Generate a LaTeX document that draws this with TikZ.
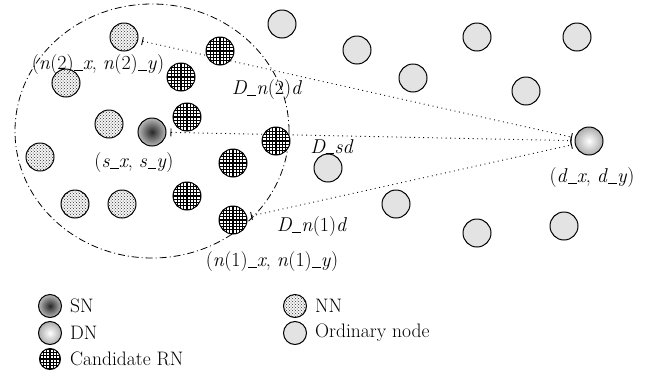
\documentclass[tikz,border=0pt]{standalone}
\usetikzlibrary{arrows.meta,patterns}
\pgfdeclarelayer{bg}
\pgfsetlayers{bg,main}
\newcommand{\vi}[1]{\textit{#1}}
\newcommand{\us}{\kern0.02em\rule[-0.12ex]{0.42em}{0.07em}\kern0.02em}
\begin{document}
\begin{tikzpicture}[x=1pt,y=-1pt,
  nd/.style={circle, draw, line width=1pt, minimum size=28pt, inner sep=0pt},
  small/.style={minimum size=23pt},
  ord/.style={nd, fill=gray!22},
  nnode/.style={nd, preaction={fill=gray!8}, pattern=crosshatch dots, pattern color=black!80},
  crn/.style={nd, fill=white, path picture={\draw[line width=1.15pt] ([shift={(-1pt,-1pt)}]path picture bounding box.south west) grid[step=3.3pt] (path picture bounding box.north east);}},
  snode/.style={nd, inner color=black!85, outer color=gray!55},
  dnode/.style={nd, inner color=white, outer color=gray!65},
  lbl/.style={font=\fontsize{20}{22}\selectfont, inner sep=0pt},
  leg/.style={font=\fontsize{19.5}{22}\selectfont, inner sep=0pt, anchor=west},
  link/.style={dash pattern=on 0.9pt off 3.6pt, line width=0.9pt, {Bar[width=8pt,line width=0.9pt]}-{Bar[width=8pt,line width=0.9pt]}, shorten <=4pt, shorten >=3pt},
  zone/.style={dash pattern=on 7pt off 3pt on 1pt off 3pt, line width=0.8pt}
]
\useasboundingbox (0,0) rectangle (648,381);

% range
\draw[zone] (152,131) ellipse [x radius=137pt, y radius=127pt];

% neighbour nodes
\node[nnode] (n2) at (124,37) {};
\node[nnode] (nna) at (66,83) {};
\node[nnode] (nnb) at (109,124) {};
\node[nnode] (nnc) at (40,157) {};
\node[nnode] (nnd) at (75,204) {};
\node[nnode] (nne) at (122,204) {};

% candidate relay nodes
\node[crn] (c1) at (220,51) {};
\node[crn] (c2) at (181,77) {};
\node[crn] (c3) at (187,117) {};
\node[crn] (c4) at (276,141) {};
\node[crn] (c5) at (233,163) {};
\node[crn] (c6) at (187,196) {};
\node[crn] (n1) at (233,220) {};

% source and destination
\node[snode] (sn) at (152,132) {};
\node[dnode] (dn) at (589,141) {};

% ordinary nodes
\node[ord] (o1) at (282,24) {};
\node[ord] (o2) at (357,50) {};
\node[ord] (o3) at (477,37) {};
\node[ord] (o4) at (577,37) {};
\node[ord] (o5) at (413,78) {};
\node[ord] (o6) at (526,91) {};
\node[ord] (o7) at (328,168) {};
\node[ord] (o8) at (396,204) {};
\node[ord] (o9) at (477,233) {};
\node[ord] (o10) at (564,226) {};

% distance lines
\begin{pgfonlayer}{bg}
\draw[link] (n2) -- (dn);
\draw[link] (sn) -- (dn);
\draw[link] (n1) -- (dn);
\end{pgfonlayer}

% labels
\node[lbl] (ln2) at (98,65) {(\vi{n}(2)\us\vi{x}, \vi{n}(2)\us\vi{y})};
\node[lbl] (ldn2) at (267,90) {\vi{D}\us\vi{n}(2)\vi{d}};
\node[lbl] (lsn) at (134,163) {(\vi{s}\us\vi{x}, \vi{s}\us\vi{y})};
\node[lbl] (ldsd) at (332,147) {\vi{D}\us\vi{sd}};
\node[lbl] (ldn1) at (312,227) {\vi{D}\us\vi{n}(1)\vi{d}};
\node[lbl] (ln1) at (272,262) {(\vi{n}(1)\us\vi{x}, \vi{n}(1)\us\vi{y})};
\node[lbl] (ldn) at (592,178) {(\vi{d}\us\vi{x}, \vi{d}\us\vi{y})};

% legend
\node[snode, small] (ksn) at (50,306) {};
\node[leg] (tsn) at (70,306) {SN};
\node[dnode, small] (kdn) at (50,333) {};
\node[leg] (tdn) at (70,333) {DN};
\node[crn, minimum size=21pt] (kcr) at (50,359) {};
\node[leg] (tcr) at (70,359) {Candidate RN};
\node[nnode, small] (knn) at (295,306) {};
\node[leg] (tnn) at (315,306) {NN};
\node[ord, small] (kor) at (295,333) {};
\node[leg] (tor) at (315,333) {Ordinary node};
\end{tikzpicture}
\end{document}
